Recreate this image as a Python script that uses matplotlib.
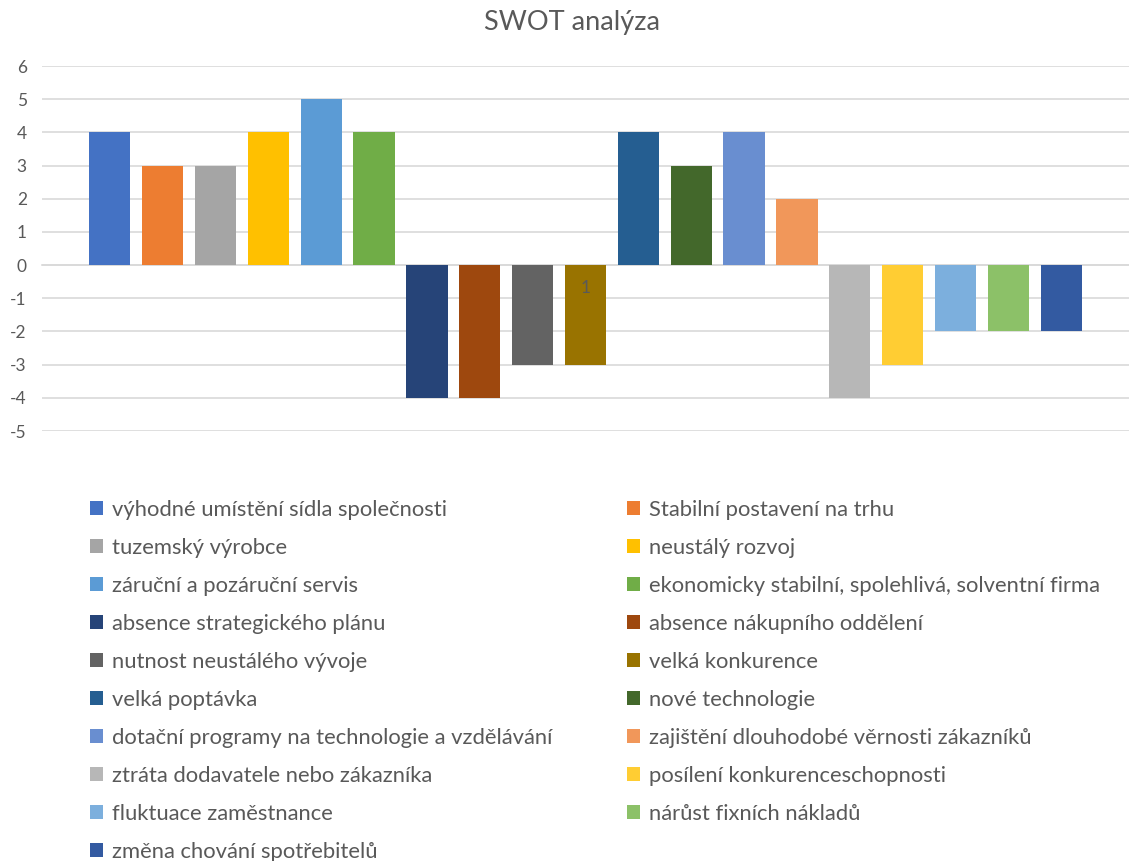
import matplotlib.pyplot as plt

# SWOT items (series), values and Excel-like colours
labels = [
    'výhodné umístění sídla společnosti',
    'Stabilní postavení na trhu',
    'tuzemský výrobce',
    'neustálý rozvoj',
    'záruční a pozáruční servis',
    'ekonomicky stabilní, spolehlivá, solventní firma',
    'absence strategického plánu',
    'absence nákupního oddělení',
    'nutnost neustálého vývoje',
    'velká konkurence',
    'velká poptávka',
    'nové technologie',
    'dotační programy na technologie a vzdělávání',
    'zajištění dlouhodobé věrnosti zákazníků',
    'ztráta dodavatele nebo zákazníka',
    'posílení konkurenceschopnosti',
    'fluktuace zaměstnance',
    'nárůst fixních nákladů',
    'změna chování spotřebitelů',
]
values = [4, 3, 3, 4, 5, 4, -4, -4, -3, -3, 4, 3, 4, 2, -4, -3, -2, -2, -2]
colors = [
    '#4472C4', '#ED7D31', '#A5A5A5', '#FFC000', '#5B9BD5', '#70AD47',
    '#264478', '#9E480E', '#636363', '#997300', '#255E91', '#43682B',
    '#698ED0', '#F1975A', '#B7B7B7', '#FFCD33', '#7CAFDD', '#8CC168',
    '#335AA1',
]
category = '1'
yticks = list(range(-5, 7))

plt.rcParams['font.family'] = ['Lato', 'DejaVu Sans']
plt.rcParams['axes.unicode_minus'] = False

fig = plt.figure(figsize=(11.29, 8.61), dpi=100)
ax = fig.add_axes([0.0372, 0.4994, 0.9628, 0.4239])

handles = []
for i, (v, c, lab) in enumerate(zip(values, colors, labels)):
    h = ax.bar(i, v, width=0.78, color=c, label=lab, zorder=2)
    handles.append(h)

ax.set_xlim(-1.28, len(values) - 1 + 1.28)
ax.set_ylim(-5, 6)
ax.set_yticks(yticks)
ax.yaxis.grid(True, color='#D9D9D9', linewidth=1.2)
ax.set_axisbelow(True)
for s in ['top', 'right', 'left']:
    ax.spines[s].set_visible(False)
ax.spines['bottom'].set_position(('data', 0))
ax.spines['bottom'].set_color('#D9D9D9')
ax.spines['bottom'].set_linewidth(1.2)
ax.spines['bottom'].set_zorder(1)
# category label "1" sits on top of the bars like in Excel
ax.xaxis.set_zorder(3)
ax.set_xticks([(len(values) - 1) / 2])
ax.set_xticklabels([category])
ax.tick_params(axis='x', length=0, pad=11, labelsize=12.5, labelcolor='#595959')
ax.tick_params(axis='y', length=0, pad=11, labelsize=12.5, labelcolor='#595959')

fig.suptitle('SWOT analýza', x=0.507, y=0.988, fontsize=19.5, color='#595959')

# legend rows read left->right, so reorder for column-major filling
order = list(range(0, len(labels), 2)) + list(range(1, len(labels), 2))
leg = fig.legend([handles[i] for i in order], [labels[i] for i in order],
                 ncol=2, loc='upper left', bbox_to_anchor=(0.070, 0.432),
                 frameon=False, fontsize=15.8, labelcolor='#595959',
                 handlelength=0.58, handleheight=0.58, handletextpad=0.42,
                 labelspacing=0.82, columnspacing=3.4, borderpad=0)

fig.savefig('out.png', dpi=100)
